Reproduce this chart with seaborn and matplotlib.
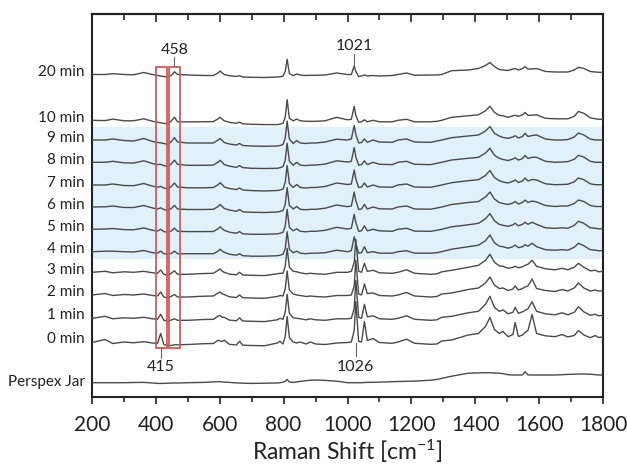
import matplotlib
matplotlib.use("Agg")
import matplotlib.pyplot as plt
from matplotlib.patches import Rectangle
import numpy as np
import pandas as pd
import seaborn as sns

# ---------------- data ----------------
# Raman shift sample positions (cm^-1)
wavenumber = [
    200, 241, 265, 300, 330, 362, 390, 405, 415, 425,
    438, 450, 458, 468, 500, 550, 580, 595, 601, 608,
    614, 630, 652, 662, 672, 700, 740, 780, 789, 798,
    805, 811, 818, 830, 841, 852, 870, 884, 900, 930,
    966, 1000, 1012, 1021, 1026, 1035, 1044, 1053, 1062, 1080,
    1100, 1140, 1158, 1185, 1210, 1260, 1280, 1295, 1326, 1378,
    1410, 1432, 1446, 1460, 1475, 1487, 1503, 1518, 1525, 1535,
    1548, 1556, 1565, 1578, 1592, 1620, 1650, 1672, 1690, 1710,
    1723, 1740, 1760, 1776, 1786, 1800]

# relative intensities (a.u.) of each spectrum
perspex = [
    0, 0, 0, 0, 0.2, 0.3, -0.3, -0.7, -0.7, -0.7,
    -0.5, -0.3, -0.3, -0.3, 0, 0.3, 0.8, 1, 1, 0.8,
    0.6, 0.3, -0.2, -0.3, -0.5, -0.7, -0.5, -0.3, 0, 0.5,
    1.5, 3.3, 0.6, 0.3, 0.8, 1.3, 2, 2.5, 2.7, 2.3,
    1.5, 0, 0, 0, 0, 0, 0, 0.2, 0.3, 0.4,
    0.6, 1, 1.2, 1.4, 1.6, 2.5, 3.3, 4.3, 6.5, 9.5,
    9.8, 10, 10, 9.8, 9.5, 9, 8, 7.7, 7.7, 7.7,
    7.8, 11, 7.8, 7.7, 7.7, 7.7, 7.7, 8, 8.3, 8.5,
    8.7, 8.7, 8.5, 8, 7.7, 7.7]
min0 = [
    0, 3, -1, 0.5, -0.3, 0.8, -0.5, -1, 9, -2,
    -3.3, -2.8, -2.3, -2.3, -2, -1.2, -1, 2.3, 1.5, 1,
    2.3, -1.8, -2.5, 1.3, -2.7, -3, -3.3, -0.5, 1.3, -1.5,
    6, 26, 5, 0.5, -0.5, 0.5, -1.5, 0.5, -1.5, -2,
    -0.5, 0, 0.5, 12, 41, 1, 0.5, 21, 2, 4,
    0, -0.8, 0.5, 3.3, -0.8, -1.8, -1.5, 1.5, 2.5, 7.5,
    9, 16, 25, 13, 9, 11, 5.8, 8, 20, 6,
    7.5, 10, 12, 28, 9, 6.7, 5.8, 8, 5.5, 7,
    12, 7.5, 4.8, 7, 5, 5.5]
min1 = [
    0, 2, -0.5, 0.5, 0, 1, -0.5, -1, 4, -2,
    -3, -1.5, -0.5, -2, -2, -1.2, -1, 2.3, 2.8, 1,
    1, -1.8, -2.5, 0.5, -2.7, -3, -3.3, -1.5, 0, -1,
    6, 24, 5, 0.5, 0, -0.5, -1.5, -0.5, -1.5, -2,
    -0.5, -0.5, 0, 10, 38, 1, 0, 14, 1.5, 2.5,
    -0.5, -1, 0, 2.5, -1, -2, -1.5, 1, 2, 5.5,
    7, 14, 22, 11, 7, 8.3, 4.5, 6, 11, 5,
    6.5, 8, 9.5, 16.5, 7, 4.5, 3.5, 5.5, 3.5, 6,
    11.5, 6.5, 3, 4, 2.5, 3]
min2 = [
    0, 1.5, -0.5, 0.5, 0, 1, -0.5, -1, 3, -2,
    -3, -1, 0.5, -2, -2, -1.2, -1, 2, 3, 1,
    0.5, -1.8, -2.5, 0, -2.7, -3, -3.3, -1.5, -0.5, -1,
    6, 24, 5, 1, 0, -0.5, -1.5, -1, -1.5, -2,
    -0.5, -0.5, 0, 9, 35, 1, 0, 11, 1.5, 2,
    -0.5, -1, 0, 2.5, -1, -2, -1.5, 1, 2, 5.5,
    7, 12, 18, 10, 6.5, 7, 4.5, 6, 9, 5,
    6.5, 8, 9, 16, 6.5, 4.5, 3.5, 5.5, 4, 7,
    12, 7, 4, 5, 4, 4]
min3 = [
    0, 1, -0.5, 0.5, 0, 1, -0.5, -1, 2.3, -2,
    -3, -0.5, 1.5, -2, -2, -1.2, -1, 2, 3.5, 1,
    0, -1.8, -2.5, 0, -2.7, -3, -3.3, -1.5, -1, -1,
    6, 24, 5, 1, 0.5, -0.5, -1.5, -1, -1.5, -2,
    0, 0, 1, 10, 33, 1, 0, 9, 1, 2,
    -0.5, -1, 0, 2.5, -1, -2, -1.5, 0.5, 2, 5,
    7, 12, 18, 10, 6.5, 6, 4, 5, 6, 4.5,
    5.5, 7, 8, 12, 6, 3.5, 2.5, 4, 2.5, 5,
    9, 5, 1.5, 2, 0.5, 1]
min4 = [
    0, 0.5, 0.5, 0, -0.3, 1.2, -1, -1.5, 0.7, -2,
    -2.5, -1.5, 0.7, -2, -2, -2, -2, 0.5, 2.5, 0.5,
    -0.5, -2.5, -3.5, -2, -4, -4.5, -4.5, -4, -3.5, -2.5,
    3, 20, 2.5, -1, 0.5, -1.5, -2, -1.5, -1.5, -1,
    1.5, 0, 1, 15, 8, -1.5, -1, 5, -1, 0,
    -1.5, -1.5, 0, 1, -1.5, -1.5, -1, 0, 2.5, 5,
    6.5, 11, 16.7, 9, 5.5, 5, 3.5, 5, 6.7, 4,
    5, 7, 5.5, 8.4, 5, 2, 1.5, 2, 1.5, 4.5,
    8.4, 6, 2, 1.5, 1, 1]
min5 = [
    0, 0.3, 0.8, -0.3, -0.5, 1.3, -1, -1.8, 0, -2.3,
    -3, -1.2, 1.2, -2, -2.3, -2.3, -2.2, 0.5, 2.5, 0.5,
    -1, -2.8, -4, -2.3, -4.5, -5, -5, -4.5, -4, -3,
    3, 20, 2, -1.5, 0.5, -2, -2.5, -2, -2, -1,
    2, 0.3, 1, 15, 7, -2, -1.5, 3.5, -1.5, 0,
    -1.5, -2, 0, 1, -1.8, -2, -1, 0, 2.5, 4.5,
    6, 10.5, 15.7, 8.5, 5, 4, 3, 4.5, 6, 3.5,
    5, 7, 5, 7, 5, 1.5, 1, 1.5, 1, 4,
    8, 6, 1.5, 1, 0.5, 0.5]
min6 = [
    0, 0.2, 1, -0.5, -0.5, 1.5, -1, -2, -0.8, -2.5,
    -3.5, -1, 1.6, -2, -2.5, -2.5, -2.3, 0.5, 2.5, 0.5,
    -1.5, -3, -4.3, -2.5, -4.8, -5.3, -5.5, -5, -4.5, -3.5,
    2.5, 19.5, 1.5, -2, 0.5, -2.3, -2.8, -2.3, -2.3, -1.2,
    2, 0.3, 1, 15, 6.5, -2.5, -2, 2.5, -2, 0,
    -1.8, -2, 0, 1, -2, -2.2, -1, 0, 2.5, 4.5,
    5.5, 10, 15, 8, 4.5, 3.5, 2.5, 4, 5.5, 3,
    4.5, 7, 4.5, 6, 5, 1.5, 0.5, 1, 1, 3.5,
    7, 5.5, 1.5, 0.5, 0.5, 0.5]
min7 = [
    0, 0, 1, -0.5, -0.7, 1.5, -1.2, -2.2, -1.5, -3,
    -4, -1, 2, -2, -2.8, -2.8, -2.5, 0.3, 2.3, 0.3,
    -2, -3.5, -4.6, -3, -5, -5.6, -6, -5.5, -5, -4,
    2.5, 19.5, 1.5, -2.5, 0.5, -2.5, -3, -2.5, -2.5, -1.5,
    2, 0.5, 1, 15, 6, -2.5, -2, 2, -2, 0,
    -2, -2.2, 0, 1, -2, -2.3, -1, 0, 2.3, 4.3,
    5.3, 9.5, 14.5, 7.5, 4.3, 3, 2, 3.7, 5, 2.5,
    4, 7, 4, 5.5, 5, 1.2, 0.3, 0.5, 0.8, 3.2,
    7, 5.3, 1.2, 0.3, 0.3, 0.3]
min8 = [
    0, 0, 1, -0.5, -0.8, 1.5, -1.3, -2.3, -2, -3.3,
    -4.3, -1, 2.2, -2, -3, -3, -2.8, 0.2, 2, 0,
    -2.3, -3.8, -5, -3.3, -5.3, -6, -6.2, -6, -5.3, -4.3,
    2, 19, 1.2, -3, 0, -2.8, -3.3, -2.8, -2.8, -1.8,
    1.5, 0.3, 1, 14.8, 5.5, -2.8, -2.3, 1.5, -2.3, 0,
    -2, -2.3, 0, 1, -2, -2.3, -1, 0, 2.3, 4,
    5, 9.3, 14, 7, 4, 2.8, 1.8, 3.3, 4.5, 2.2,
    3.8, 6.8, 3.8, 5, 5, 1, 0, 0.3, 0.7, 3,
    7, 5.2, 1, 0, 0, 0]
min9 = [
    0, 0, 1, -0.5, -1, 1.5, -1.5, -2.5, -2.8, -3.5,
    -4.5, -1, 2.4, -2, -3, -3, -3, 0, 1.5, -0.5,
    -2.5, -4, -5, -3.5, -5.5, -6, -6.3, -6, -5.5, -4.5,
    2, 19, 1, -3.5, -0.5, -3, -3.5, -3, -3, -2,
    0.8, 0, 1, 14.5, 5.5, -3, -2.5, 1, -2.3, 0,
    -2, -2.3, 0, 1, -2, -2.3, -1, 0, 2.3, 4,
    5, 9, 13.5, 6.7, 4, 2.5, 1.7, 3, 4.3, 2,
    3.5, 6.7, 3.5, 4.5, 5, 1, 0, 0, 0.5, 3,
    7, 5, 1, 0, 0, 0]
min10 = [
    0, -0.3, 1.2, -0.5, -0.5, 1.5, -1, -2, -2.5, -3,
    -3.7, 0, 3, -1.5, -1.5, -1.5, -1.3, 1.5, 3, 1,
    -0.5, -2, -3, -1.8, -3.5, -4, -4.3, -4.3, -3.8, -3,
    3, 20.6, 2, -0.5, 1.3, -0.5, -1, -1, -1, -0.5,
    3, 0.5, 1, 14, 5, -2, -1.5, 0.5, -1.5, 0,
    -1.5, -1.5, 0, 1, -1.5, -1.5, -1, 0, 3, 4.5,
    5.5, 9.5, 14, 8, 5, 4.5, 3, 4.5, 5, 4,
    5.5, 7.8, 5, 5, 5.5, 2, 1.5, 1.5, 1.5, 4,
    8.8, 7, 2.5, 1.5, 1, 1]
min20 = [
    0, 0, 0.8, 0, -0.3, 2, 0, -1, -1.5, -2,
    -2.5, -0.5, 2.8, 0, -0.5, -1, -1, 1.5, 3.5, 1.5,
    0, -1.2, -2, -1.2, -2.5, -2.8, -3, -2.5, -2.3, -1.5,
    3, 15.3, 1, -1.2, 0.5, -0.5, -1, -0.8, -0.8, -0.5,
    1.5, 0, 0, 8.5, 3, -2, -1.5, -0.5, -1.5, -1,
    -1.5, -1, 0, 1.5, -0.8, -0.5, -0.5, 0, 3.8, 4.5,
    6, 9, 12, 8, 5, 4.5, 4, 5.5, 6, 4.5,
    6, 7.8, 5.5, 5.5, 6, 3, 2.5, 2.5, 2.5, 4.5,
    7.2, 6, 3, 2.5, 2.2, 2.2]

series_labels = ["Perspex Jar", "0 min", "1 min", "2 min", "3 min", "4 min",
                 "5 min", "6 min", "7 min", "8 min", "9 min", "10 min", "20 min"]
series_values = [perspex, min0, min1, min2, min3, min4, min5, min6, min7,
                 min8, min9, min10, min20]
# vertical stacking offset of each spectrum
series_offsets = [14.3, 54.5, 78.7, 102, 124.7, 145.3, 167.7, 190, 212,
                  234.7, 257, 276.7, 322.5]

x_ticks = [200, 400, 600, 800, 1000, 1200, 1400, 1600, 1800]

# ---------------- build long table ----------------
rows = []
for lab, vals, off in zip(series_labels, series_values, series_offsets):
    for w, v in zip(wavenumber, vals):
        rows.append({"wn": w, "y": off + v, "series": lab})
df = pd.DataFrame(rows)

# ---------------- figure ----------------
sns.set_style("ticks")
plt.rcParams["font.family"] = ["Lato", "DejaVu Sans"]
plt.rcParams["mathtext.default"] = "regular"

fig = plt.figure(figsize=(6.27, 4.65), dpi=100)
ax = fig.add_axes([92 / 627, 1 - 397 / 465, 511 / 627, 383 / 465])

ax.axhspan(138, 270.3, color="#e0f1fa", zorder=0, lw=0)

sns.lineplot(data=df, x="wn", y="y", units="series", estimator=None,
             sort=False, color="#4a4a4a", linewidth=1.0, legend=False, ax=ax,
             zorder=3)

# highlight boxes
box_color = "#d65a57"
ax.add_patch(Rectangle((400, 48.7), 34, 281.6, fill=False, ec=box_color,
                       lw=1.3, zorder=4))
ax.add_patch(Rectangle((441, 48.7), 34, 281.6, fill=False, ec=box_color,
                       lw=1.3, zorder=4))

# peak markers
tc = "#222222"
fs_peak = 11.5
ax.plot([458, 458], [330.5, 340], color="#666666", lw=0.8, zorder=4)
ax.text(458, 347, "458", ha="center", va="center", fontsize=fs_peak, color=tc)
ax.plot([1021, 1021], [331, 343], color="#666666", lw=0.8, zorder=4)
ax.text(1021, 351, "1021", ha="center", va="center", fontsize=fs_peak, color=tc)
ax.plot([415, 415], [39, 48.7], color="#666666", lw=0.8, zorder=4)
ax.text(415, 30.3, "415", ha="center", va="center", fontsize=fs_peak, color=tc)
ax.plot([1026, 1026], [41, 54], color="#666666", lw=0.8, zorder=4)
ax.text(1026, 30.3, "1026", ha="center", va="center", fontsize=fs_peak, color=tc)

# series labels on the left
label_shift = [0.3, 3.5, 3, 3, 2.5, 2.5, 2.5, 2, 2, 2, 2, 2.5, 2]
for lab, off, sh in zip(series_labels, series_offsets, label_shift):
    ax.text(-0.014, off + sh, lab, transform=ax.get_yaxis_transform(),
            ha="right", va="center", fontsize=11, color=tc)

ax.set_xlim(200, 1800)
ax.set_ylim(0, 383)
ax.set_xticks(x_ticks)
ax.set_xticklabels([str(t) for t in x_ticks])
ax.set_xticks(np.arange(300, 1800, 200), minor=True)
ax.set_yticks([])
ax.tick_params(axis="x", which="major", direction="out", length=5, width=1.2,
               labelsize=15, colors="#222222", pad=8)
ax.tick_params(axis="x", which="minor", direction="out", length=3.5, width=1.2)
ax.set_xlabel("Raman Shift [cm$^{-1}$]", fontsize=16.5, color=tc, labelpad=2)
ax.set_ylabel("")

for s in ax.spines.values():
    s.set_visible(True)
    s.set_linewidth(1.5)
    s.set_color("#222222")

# inward ticks on the top edge
top = ax.secondary_xaxis("top")
top.set_xticks(x_ticks)
top.set_xticks(np.arange(300, 1800, 200), minor=True)
top.tick_params(axis="x", which="major", direction="in", length=6, width=1.2,
                labeltop=False)
top.tick_params(axis="x", which="minor", direction="in", length=4, width=1.2)
top.spines["top"].set_linewidth(1.5)
top.set_xticklabels([])

fig.savefig("out.png", dpi=100)
